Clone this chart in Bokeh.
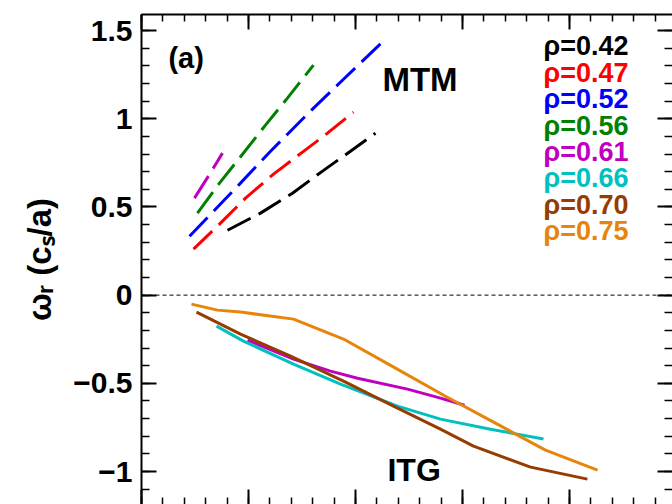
from bokeh.plotting import figure
from bokeh.models import Range1d, LinearAxis, SingleIntervalTicker, Span, CustomJSTickFormatter
from bokeh.core.properties import value
from bokeh.embed import file_html
from bokeh.resources import INLINE

# ---------------- data ----------------
rho_labels = ["ρ=0.42", "ρ=0.47", "ρ=0.52", "ρ=0.56", "ρ=0.61", "ρ=0.66", "ρ=0.70", "ρ=0.75"]
colors = ["#000000", "#ff0000", "#0000ff", "#008000", "#c000c0", "#00c0c0", "#963c00", "#e6850a"]

# MTM branch (dashed), omega_r > 0
mtm_x_042 = [0.804, 1.112, 1.411, 1.692, 1.953, 2.187]
mtm_y_042 = [0.368, 0.465, 0.578, 0.703, 0.816, 0.918]
mtm_x_047 = [0.486, 0.738, 0.972, 1.234, 1.505, 1.738, 1.981]
mtm_y_047 = [0.261, 0.408, 0.550, 0.686, 0.811, 0.918, 1.037]
mtm_x_052 = [0.449, 0.925, 1.206, 1.579, 1.888, 2.290]
mtm_y_052 = [0.334, 0.635, 0.816, 1.043, 1.224, 1.457]
mtm_x_056 = [0.523, 0.729, 0.944, 1.159, 1.364, 1.607]
mtm_y_056 = [0.465, 0.635, 0.799, 0.964, 1.117, 1.304]
mtm_x_061 = [0.495, 0.626, 0.757]
mtm_y_061 = [0.550, 0.675, 0.805]

# ITG branch (solid), omega_r < 0
itg_x_061 = [0.991, 1.421, 1.766, 2.019, 2.486, 2.794, 3.019]
itg_y_061 = [-0.255, -0.363, -0.431, -0.471, -0.533, -0.584, -0.624]
itg_x_066 = [0.701, 0.953, 1.421, 1.860, 2.393, 2.794, 3.262, 3.757]
itg_y_066 = [-0.176, -0.261, -0.391, -0.505, -0.629, -0.703, -0.760, -0.816]
itg_x_070 = [0.514, 0.925, 1.393, 1.888, 2.355, 2.794, 3.103, 3.636, 4.168]
itg_y_070 = [-0.096, -0.221, -0.346, -0.488, -0.629, -0.760, -0.856, -0.975, -1.043]
itg_x_075 = [0.467, 0.710, 0.925, 1.421, 1.888, 2.374, 2.841, 3.308, 3.776, 4.262]
itg_y_075 = [-0.051, -0.085, -0.096, -0.136, -0.249, -0.414, -0.573, -0.726, -0.879, -0.992]

y_tick_labels = {-1: "\u22121", -0.5: "\u22120.5", 0: "0", 0.5: "0.5", 1: "1", 1.5: "1.5"}

# ---------------- figure ----------------
FONT = "Liberation Sans"
p = figure(width=672, height=504,
           x_range=Range1d(0, 4.963), y_range=Range1d(-1.187, 1.591),
           output_backend="svg", toolbar_location=None,
           x_axis_location="above",
           min_border_left=141, min_border_top=14, min_border_right=0, min_border_bottom=0)
p.outline_line_color = None
p.grid.visible = False
p.background_fill_color = "white"
p.border_fill_color = "white"

blank = CustomJSTickFormatter(code="return ''")


def ticks_in(ax, minor_len=8):
    ax.major_tick_in = 15
    ax.major_tick_out = 0
    ax.minor_tick_in = minor_len
    ax.minor_tick_out = 0
    ax.major_tick_line_width = 2
    ax.minor_tick_line_width = 1.5
    ax.axis_line_width = 2
    ax.axis_line_color = "black"
    ax.major_tick_line_color = "black"
    ax.minor_tick_line_color = "black"


def no_labels(ax):
    ax.formatter = blank
    ax.major_label_text_font_size = "1px"
    ax.major_label_standoff = 0
    ax.axis_label = None


# top x axis
xt = p.xaxis[0]
xt.ticker = SingleIntervalTicker(interval=1, num_minor_ticks=5)
ticks_in(xt, 7)
no_labels(xt)

# bottom x axis (its line lies beyond the cut edge)
xb = LinearAxis(ticker=SingleIntervalTicker(interval=1, num_minor_ticks=5))
ticks_in(xb, 7)
no_labels(xb)
xb.axis_line_color = None
p.add_layout(xb, "below")

# left y axis
yl = p.yaxis[0]
yl.ticker = SingleIntervalTicker(interval=0.5, num_minor_ticks=5)
ticks_in(yl, 8)
yl.major_label_overrides = y_tick_labels
yl.major_label_text_font = FONT
yl.major_label_text_font_style = "bold"
yl.major_label_text_font_size = "30px"
yl.major_label_text_color = "black"
yl.major_label_standoff = 9
yl.axis_label = "ω\u1d63 (c\u209b/a)"
yl.axis_label_text_font = FONT
yl.axis_label_text_font_style = "bold"
yl.axis_label_text_font_size = "33px"
yl.axis_label_text_color = "black"
yl.axis_label_standoff = 12

# right y axis (ticks only)
yr = LinearAxis(ticker=SingleIntervalTicker(interval=0.5, num_minor_ticks=5))
ticks_in(yr, 8)
no_labels(yr)
yr.axis_line_color = None
p.add_layout(yr, "right")

# zero line
p.add_layout(Span(location=0, dimension="width", line_color="black",
                  line_width=1, line_dash="4 3"))

# MTM dashed curves
dash = "26 9"
for xs, ys, c in [(mtm_x_042, mtm_y_042, colors[0]), (mtm_x_047, mtm_y_047, colors[1]),
                  (mtm_x_052, mtm_y_052, colors[2]), (mtm_x_056, mtm_y_056, colors[3]),
                  (mtm_x_061, mtm_y_061, colors[4])]:
    p.line(xs, ys, line_color=c, line_width=3, line_dash=dash)

# ITG solid curves
for xs, ys, c in [(itg_x_061, itg_y_061, colors[4]), (itg_x_066, itg_y_066, colors[5]),
                  (itg_x_070, itg_y_070, colors[6]), (itg_x_075, itg_y_075, colors[7])]:
    p.line(xs, ys, line_color=c, line_width=3)

# legend as coloured text
leg_x = 3.757
leg_y0 = 1.41
leg_dy = 0.1497
p.text(x=[leg_x] * len(rho_labels),
       y=[leg_y0 - i * leg_dy for i in range(len(rho_labels))],
       text=rho_labels, text_color=colors,
       text_font=value(FONT), text_font_style="bold", text_font_size="27px",
       text_align="left", text_baseline="alphabetic")

# annotations
p.text(x=[0.252], y=[1.342], text=["(a)"], text_color="black",
       text_font=value(FONT), text_font_style="bold", text_font_size="29px",
       text_align="left", text_baseline="alphabetic")
p.text(x=[2.252], y=[1.22], text=["MTM"], text_color="black",
       text_font=value(FONT), text_font_style="bold", text_font_size="33px",
       text_align="left", text_baseline="alphabetic")
p.text(x=[2.299], y=[-0.99], text=["ITG"], text_color="black",
       text_font=value(FONT), text_font_style="bold", text_font_size="32px",
       text_align="left", text_baseline="alphabetic")

open("out.html", "w").write(file_html(p, INLINE))
